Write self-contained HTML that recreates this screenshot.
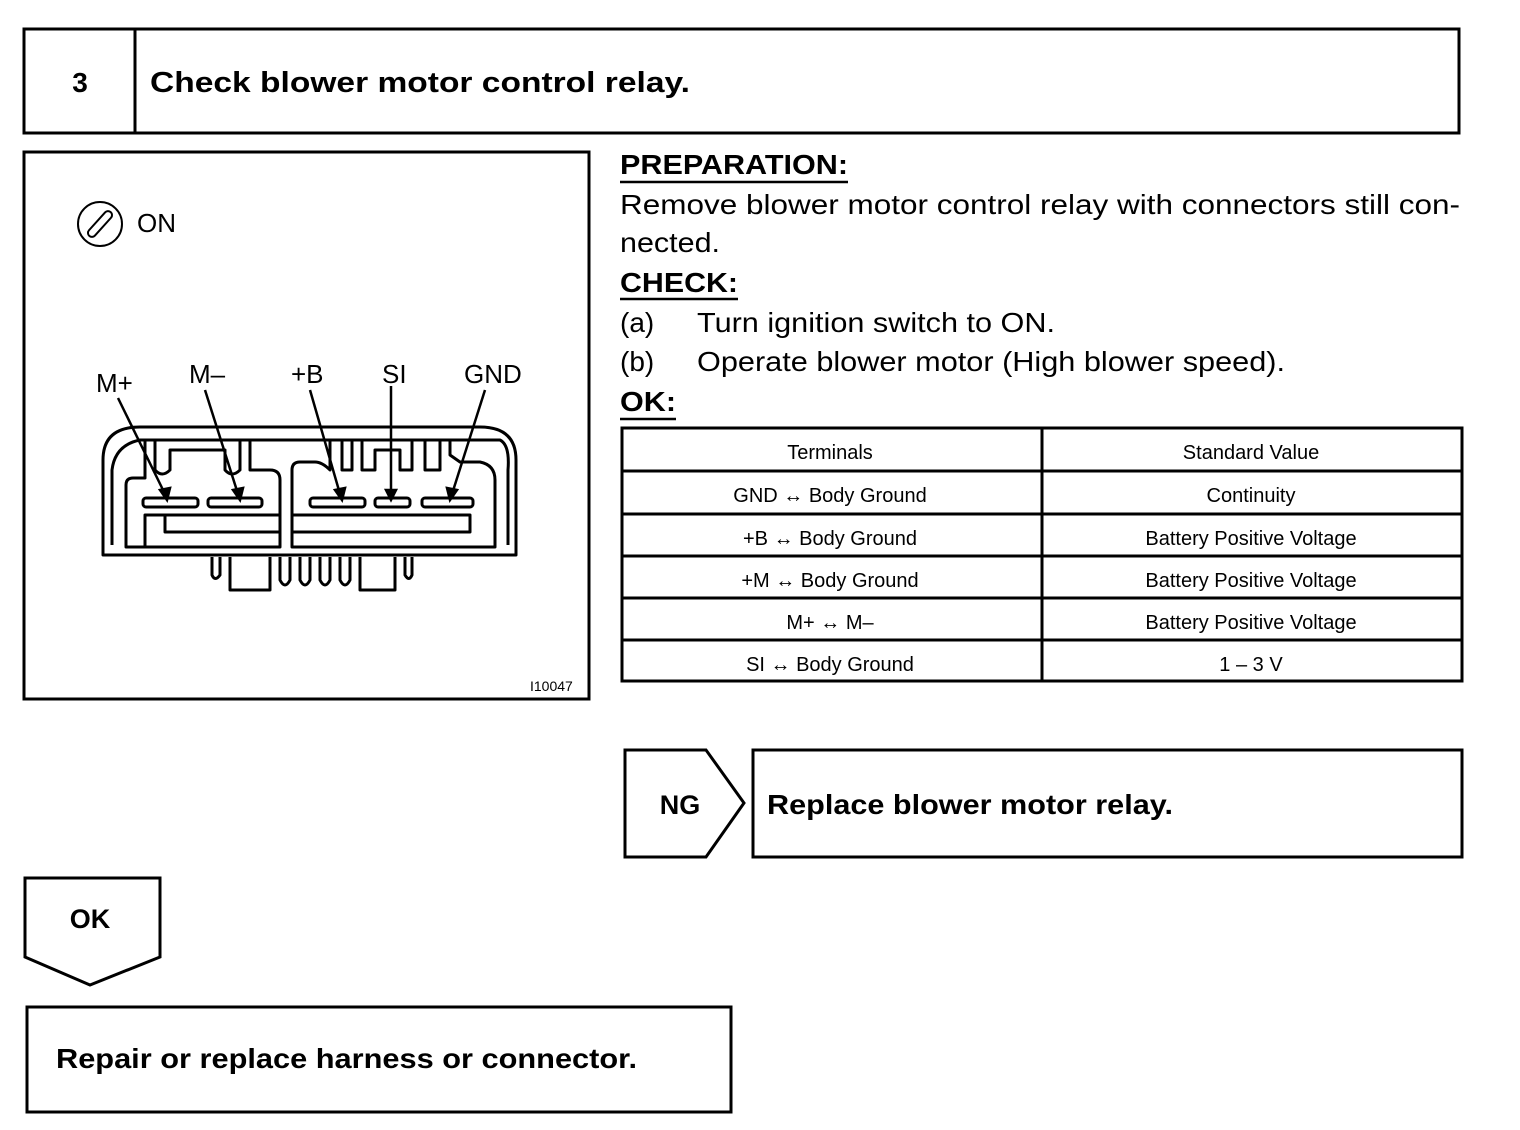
<!DOCTYPE html>
<html><head><meta charset="utf-8"><style>
html,body{margin:0;padding:0;background:#fff;}
svg{display:block;}
text{font-family:"Liberation Sans",Arial,sans-serif;fill:#000;}
.b{font-weight:bold;}
</style></head><body>
<svg width="1520" height="1130" viewBox="0 0 1520 1130" xmlns="http://www.w3.org/2000/svg">
<g fill="none" stroke="#000" stroke-width="3">
<rect x="24" y="29" width="1435" height="104"/>
<line x1="135" y1="29" x2="135" y2="133"/>
<rect x="24" y="152" width="565" height="547"/>
<rect x="622" y="428" width="840" height="253"/>
<line x1="1042" y1="428" x2="1042" y2="681"/>
<line x1="622" y1="471" x2="1462" y2="471"/>
<line x1="622" y1="514" x2="1462" y2="514"/>
<line x1="622" y1="556" x2="1462" y2="556"/>
<line x1="622" y1="598" x2="1462" y2="598"/>
<line x1="622" y1="640" x2="1462" y2="640"/>
<polygon points="625,750 706,750 744,803 706,857 625,857"/>
<rect x="753" y="750" width="709" height="107"/>
<polygon points="25,878 160,878 160,957 90,985 25,957"/>
<rect x="27" y="1007" width="704" height="105"/>
</g>
<g stroke="#000" stroke-width="2.5" fill="none">
<line x1="620" y1="182" x2="848" y2="182"/>
<line x1="620" y1="299" x2="738" y2="299"/>
<line x1="620" y1="419" x2="676" y2="419"/>
</g>
<text x="80" y="92" font-size="28" class="b" text-anchor="middle">3</text>
<text x="150" y="92" font-size="29" class="b" textLength="540" lengthAdjust="spacingAndGlyphs">Check blower motor control relay.</text>
<text x="620" y="174" font-size="28" class="b" textLength="228" lengthAdjust="spacingAndGlyphs">PREPARATION:</text>
<text x="620" y="214" font-size="28" textLength="840" lengthAdjust="spacingAndGlyphs">Remove blower motor control relay with connectors still con-</text>
<text x="620" y="252" font-size="28" textLength="100" lengthAdjust="spacingAndGlyphs">nected.</text>
<text x="620" y="292" font-size="28" class="b" textLength="118" lengthAdjust="spacingAndGlyphs">CHECK:</text>
<text x="620" y="332" font-size="28">(a)</text><text x="697" y="332" font-size="28" textLength="358" lengthAdjust="spacingAndGlyphs">Turn ignition switch to ON.</text>
<text x="620" y="371" font-size="28">(b)</text><text x="697" y="371" font-size="28" textLength="588" lengthAdjust="spacingAndGlyphs">Operate blower motor (High blower speed).</text>
<text x="620" y="411" font-size="28" class="b" textLength="56" lengthAdjust="spacingAndGlyphs">OK:</text>
<g font-size="20" text-anchor="middle">
<text x="830" y="459">Terminals</text><text x="1251" y="459">Standard Value</text>
<text x="830" y="502">GND ↔ Body Ground</text><text x="1251" y="502">Continuity</text>
<text x="830" y="545">+B ↔ Body Ground</text><text x="1251" y="545">Battery Positive Voltage</text>
<text x="830" y="587">+M ↔ Body Ground</text><text x="1251" y="587">Battery Positive Voltage</text>
<text x="830" y="629">M+ ↔ M–</text><text x="1251" y="629">Battery Positive Voltage</text>
<text x="830" y="671">SI ↔ Body Ground</text><text x="1251" y="671">1 – 3 V</text>
</g>
<text x="680" y="814" font-size="27" class="b" text-anchor="middle">NG</text>
<text x="767" y="814" font-size="28" class="b" textLength="406" lengthAdjust="spacingAndGlyphs">Replace blower motor relay.</text>
<text x="90" y="928" font-size="27" class="b" text-anchor="middle">OK</text>
<text x="56" y="1068" font-size="28" class="b" textLength="581" lengthAdjust="spacingAndGlyphs">Repair or replace harness or connector.</text>
<!-- figure -->
<circle cx="100" cy="224" r="22" fill="none" stroke="#000" stroke-width="2"/>
<g transform="rotate(-48 100 224)"><rect x="84" y="220" width="32" height="8" rx="4" fill="none" stroke="#000" stroke-width="2"/></g>
<text x="137" y="232" font-size="26">ON</text>
<g font-size="26">
<text x="96" y="392">M+</text><text x="189" y="383">M–</text><text x="291" y="383">+B</text><text x="382" y="383">SI</text><text x="464" y="383">GND</text>
</g>
<text x="530" y="691" font-size="14">I10047</text>
<g fill="none" stroke="#000" stroke-width="3" stroke-linejoin="round">
<path d="M103,460 Q103,427 140,427 L480,427 Q516,427 516,460 L516,555 L103,555 Z"/>
<path d="M112,545 L112,470 Q115,445 140,440 L500,440 Q510,445 508,470 L508,545"/>
<path d="M145,440 L145,478 L133,478 Q126,478 126,485 L126,547 L280,547 L280,480 Q280,470 270,470 L250,470 L250,440"/>
<path d="M155,440 L155,470 Q162,478 170,470 L170,450 L225,450 L225,470 Q232,478 240,470 L240,440"/>
<path d="M330,440 L330,470 Q322,462 315,462 L300,462 Q292,462 292,470 L292,547 L495,547 L495,480 Q495,465 480,462 L460,462 L450,455 L450,440"/>
<path d="M342,440 L342,470 L352,470 L352,440 M362,440 L362,470 L375,470 L375,450 L400,450 L400,470 L412,470 L412,440 M425,440 L425,470 L440,470 L440,440"/>
<rect x="143" y="498" width="55" height="9" rx="3"/>
<rect x="208" y="498" width="54" height="9" rx="3"/>
<rect x="310" y="498" width="55" height="9" rx="3"/>
<rect x="375" y="498" width="35" height="9" rx="3"/>
<rect x="422" y="498" width="51" height="9" rx="3"/>
<path d="M145,547 L145,515 L280,515 M165,515 L165,532 L280,532"/>
<path d="M292,515 L470,515 L470,532 L292,532"/>
<path d="M212,557 L212,575 Q215,582 220,575 L220,557 M230,557 L230,590 L270,590 L270,557 M280,557 L280,580 Q285,590 290,580 L290,557 M300,557 L300,580 Q305,590 310,580 L310,557 M320,557 L320,580 Q325,590 330,580 L330,557 M340,557 L340,580 Q345,590 350,580 L350,557 M360,557 L360,590 L395,590 L395,557 M405,557 L405,575 Q409,582 412,575 L412,557"/>
</g>
<g stroke="#000" stroke-width="2.5">
<line x1="118" y1="398" x2="165" y2="494"/><polygon points="160,490 170,488 167,500" />
<line x1="205" y1="390" x2="238" y2="494"/><polygon points="233,490 243,488 240,500"/>
<line x1="310" y1="390" x2="340" y2="494"/><polygon points="335,490 345,488 342,500"/>
<line x1="391" y1="386" x2="391" y2="494"/><polygon points="386,490 396,490 391,500"/>
<line x1="485" y1="390" x2="452" y2="494"/><polygon points="447,488 457,490 450,500"/>
</g>
</svg>
</body></html>
